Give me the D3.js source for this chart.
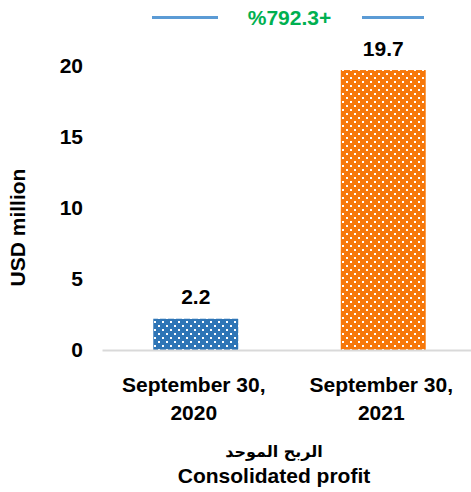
<!DOCTYPE html>
<html>
<head>
<meta charset="utf-8">
<script src="https://cdn.jsdelivr.net/npm/d3@7"></script>
<style>
  body { margin: 0; background: #fff; }
  svg { display: block; font-family: Arial, "Liberation Sans", sans-serif; font-weight: bold; }
</style>
</head>
<body>
<svg></svg>
<script>
const width = 471;
const height = 492;

// data
const categories = ["September 30, 2020", "September 30, 2021"];
const values = [2.2, 19.7];
const barColors = ["#2E75B6", "#F7780A"];
const yTicks = [0, 5, 10, 15, 20];
const changeLabel = "%792.3+";
const yTitle = "USD million";
const xTitleAr = "الربح الموحد";
const xTitleEn = "Consolidated profit";

const svg = d3.select("svg")
    .attr("width", width)
    .attr("height", height);

const x = d3.scaleBand()
    .domain(categories)
    .range([102, 477])
    .paddingInner(0.547)
    .paddingOuter(0.2735);

const y = d3.scaleLinear()
    .domain([0, 20])
    .range([350, 65.8]);

// dotted fill patterns
const defs = svg.append("defs");
barColors.forEach((c, i) => {
    const p = defs.append("pattern")
        .attr("id", "dots" + i)
        .attr("patternUnits", "userSpaceOnUse")
        .attr("width", 8)
        .attr("height", 8);
    p.append("rect").attr("width", 8).attr("height", 8).attr("fill", c);
    p.append("rect").attr("x", 2).attr("y", 1).attr("width", 2).attr("height", 2).attr("fill", "#fff");
    p.append("rect").attr("x", 6).attr("y", 5).attr("width", 2).attr("height", 2).attr("fill", "#fff");
});

// y axis (labels only)
const yAxis = svg.append("g")
    .attr("transform", "translate(83,0)")
    .call(d3.axisLeft(y).tickValues(yTicks).tickSize(0).tickPadding(0));
yAxis.select(".domain").remove();
yAxis.selectAll("text")
    .attr("fill", "#000")
    .style("font-size", "21px")
    .style("font-weight", "bold")
    .style("font-family", "Arial, 'Liberation Sans', sans-serif");

// bars
svg.selectAll(".bar")
    .data(values)
    .enter().append("rect")
    .attr("class", "bar")
    .attr("x", (d, i) => x(categories[i]))
    .attr("width", x.bandwidth())
    .attr("y", d => y(d))
    .attr("height", d => y(0) - y(d))
    .attr("fill", (d, i) => `url(#dots${i})`);

// value labels
svg.selectAll(".val")
    .data(values)
    .enter().append("text")
    .attr("class", "val")
    .attr("x", (d, i) => x(categories[i]) + x.bandwidth() / 2)
    .attr("y", d => y(d) - 14.5)
    .attr("text-anchor", "middle")
    .style("font-size", "21px")
    .text(d => d.toFixed(1));

// x axis
const xAxis = svg.append("g")
    .attr("transform", `translate(0,${y(0)})`)
    .call(d3.axisBottom(x).tickSize(0).tickSizeOuter(0));
xAxis.select(".domain")
    .attr("stroke", "#d9d9d9")
    .attr("stroke-width", 2);
xAxis.selectAll(".tick text").remove();
xAxis.selectAll(".tick").each(function(d) {
    const lines = d.split(", ");
    const t = d3.select(this).append("text")
        .attr("fill", "#000")
        .attr("text-anchor", "middle")
        .style("font-size", "21px")
        .style("font-weight", "bold")
        .style("font-family", "Arial, 'Liberation Sans', sans-serif");
    t.append("tspan").attr("x", -2).attr("y", 41.7).text(lines[0] + ",");
    t.append("tspan").attr("x", -2).attr("y", 70).text(lines[1]);
});

// change marker at top
svg.append("line")
    .attr("x1", 152).attr("x2", 218).attr("y1", 17.5).attr("y2", 17.5)
    .attr("stroke", "#5B9BD5").attr("stroke-width", 3);
svg.append("line")
    .attr("x1", 362).attr("x2", 424).attr("y1", 17.5).attr("y2", 17.5)
    .attr("stroke", "#5B9BD5").attr("stroke-width", 3);
svg.append("text")
    .attr("x", 289.5)
    .attr("y", 24.5)
    .attr("text-anchor", "middle")
    .attr("direction", "ltr")
    .attr("fill", "#00B050")
    .style("font-size", "21px")
    .text(changeLabel);

// axis titles
svg.append("text")
    .attr("transform", "translate(25,227.5) rotate(-90)")
    .attr("text-anchor", "middle")
    .style("font-size", "21px")
    .text(yTitle);

svg.append("text")
    .attr("x", 274)
    .attr("y", 457)
    .attr("text-anchor", "middle")
    .style("font-size", "16px")
    .style("font-family", "'DejaVu Sans', Arial, sans-serif")
    .text(xTitleAr);

svg.append("text")
    .attr("x", 274)
    .attr("y", 483)
    .attr("text-anchor", "middle")
    .style("font-size", "21px")
    .text(xTitleEn);
</script>
</body>
</html>
